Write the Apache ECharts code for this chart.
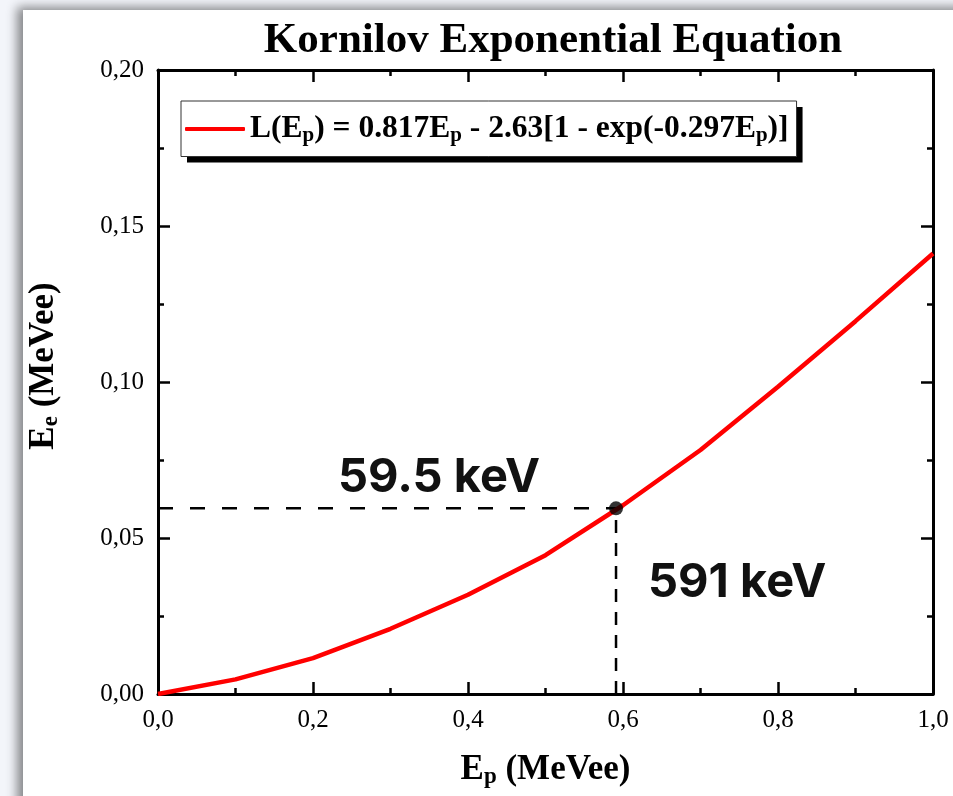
<!DOCTYPE html>
<html><head><meta charset="utf-8">
<script src="https://cdn.jsdelivr.net/npm/echarts@6/dist/echarts.min.js"></script>
<style>
html,body{margin:0;padding:0;width:953px;height:796px;overflow:hidden;background:#f3f5fa;}
#card{position:absolute;left:23px;top:10px;width:960px;height:820px;background:#fff;box-shadow:-6px -3px 10px rgba(0,0,0,0.45);}
#chart{position:absolute;left:0;top:0;width:953px;height:796px;}
</style></head>
<body><div id="card"></div><div id="chart"></div>
<script>
// Data
const ep = [0.0, 0.1, 0.2, 0.3, 0.4, 0.5, 0.6, 0.7, 0.8, 0.9, 1.0];
const ee = [0.0, 0.0047, 0.0115, 0.0209, 0.0318, 0.0445, 0.0605, 0.0782, 0.0985, 0.1195, 0.1412];
const markEp = [0.591];
const markEe = [0.0595];
const xTicks = ['0,0','0,2','0,4','0,6','0,8','1,0'];
const yTicks = ['0,00','0,05','0,10','0,15','0,20'];
const titleText = 'Kornilov Exponential Equation';
const seriesName = 'L(Ep) = 0.817Ep - 2.63[1 - exp(-0.297Ep)]';
const labelEe = '59.5 keV';
const labelEp = '591 keV';

const chart = echarts.init(document.getElementById('chart'), null, {renderer:'canvas'});
const serif = '"Liberation Serif","Times New Roman",serif';
const curve = ep.map((x,i)=>[x, ee[i]]);
const hLine = [[0, markEe[0]], [markEp[0], markEe[0]]];
const vLine = [[markEp[0], 0], [markEp[0], markEe[0]]];

const axisCommon = {
  axisLine:{show:true, onZero:false, lineStyle:{color:'#000', width:3}},
  axisTick:{show:true, inside:true, length:12, lineStyle:{color:'#000', width:2.5}},
  minorTick:{show:true, splitNumber:2, length:6, lineStyle:{color:'#000', width:2.5}},
  splitLine:{show:false}
};
const legendRich = {
  m:{fontFamily:serif, fontWeight:'bold', fontSize:31.5, color:'#000'},
  s:{fontFamily:serif, fontWeight:'bold', fontSize:21, color:'#000', padding:[14,0,0,0]}
};
const legendRichHidden = {
  m:{fontFamily:serif, fontWeight:'bold', fontSize:31.5, color:'rgba(0,0,0,0)'},
  s:{fontFamily:serif, fontWeight:'bold', fontSize:21, color:'rgba(0,0,0,0)', padding:[14,0,0,0]}
};
const legendFmt = function(){return '{m|L(E}{s|p}{m|) = 0.817E}{s|p}{m| - 2.63[1 - exp(-0.297E}{s|p}{m|)]}';};
const legendBase = {
  data:[{name:seriesName, icon:'roundRect'}], left:181, top:101, padding:[12,8,10,4],
  itemWidth:60, itemHeight:4, itemGap:0, formatter:legendFmt, selectedMode:false
};
const nameRich = {
  m:{fontFamily:serif, fontWeight:'bold', fontSize:35, color:'#000'},
  s:{fontFamily:serif, fontWeight:'bold', fontSize:23, color:'#000', padding:[16,0,0,0]}
};

chart.setOption({
  animation:false,
  title:{text:titleText, left:548, textAlign:'center', top:14,
    textStyle:{fontFamily:serif, fontWeight:'bold', fontSize:43, color:'#000'}},
  grid:{left:158, right:20, top:70, bottom:102, containLabel:false},
  legend:[
    Object.assign({}, legendBase, {
      backgroundColor:'#fff', borderWidth:0,
      shadowColor:'#000', shadowBlur:0, shadowOffsetX:6, shadowOffsetY:6,
      textStyle:{rich:legendRich}}),
    Object.assign({}, legendBase, {
      backgroundColor:'rgba(0,0,0,0)', borderColor:'#333', borderWidth:1,
      itemStyle:{opacity:0}, textStyle:{rich:legendRichHidden}})
  ],
  xAxis:[
    Object.assign({type:'value', min:0, max:1, interval:0.2, position:'bottom',
      name:'{m|E}{s|p}{m| (MeVee)}', nameLocation:'middle', nameGap:56,
      nameTextStyle:{rich:nameRich},
      axisLabel:{fontFamily:serif, fontSize:25, color:'#000', margin:14,
        formatter:function(v){return xTicks[Math.round(v/0.2)];}}}, axisCommon),
    Object.assign({type:'value', min:0, max:1, interval:0.2, position:'top',
      axisLabel:{show:false}}, axisCommon)
  ],
  yAxis:[
    Object.assign({type:'value', min:0, max:0.2, interval:0.05, position:'left',
      name:'{m|E}{s|e}{m| (MeVee)}', nameLocation:'middle', nameGap:95,
      nameTextStyle:{rich:nameRich, padding:[0,0,0,32]},
      axisLabel:{fontFamily:serif, fontSize:25, color:'#000', margin:14,
        formatter:function(v){return yTicks[Math.round(v/0.05)];}}}, axisCommon),
    Object.assign({type:'value', min:0, max:0.2, interval:0.05, position:'right',
      axisLabel:{show:false}}, axisCommon)
  ],
  series:[
    {name:seriesName, type:'line', data:curve, symbol:'none', smooth:false,
      lineStyle:{color:'#ff0000', width:4.5}, itemStyle:{color:'#ff0000'}, z:3},
    {name:'h', type:'line', data:hLine, symbol:'none',
      lineStyle:{color:'#000', width:2.5, type:[15,17]}, z:2},
    {name:'v', type:'line', data:vLine, symbol:'none',
      lineStyle:{color:'#000', width:2.5, type:[13,10]}, z:2},
    {name:'pt', type:'scatter', data:[[markEp[0], markEe[0]]], symbolSize:14,
      itemStyle:{color:'#000'}, z:5}
  ],
  graphic:[
    {type:'text', left:338, top:454, style:{text:labelEe, font:'bold 47px Inter, "Open Sans", sans-serif', fill:'#111'}},
    {type:'text', left:648, top:559, style:{text:labelEp, font:'bold 47px Inter, "Open Sans", sans-serif', fill:'#111'}}
  ]
});
</script></body></html>
